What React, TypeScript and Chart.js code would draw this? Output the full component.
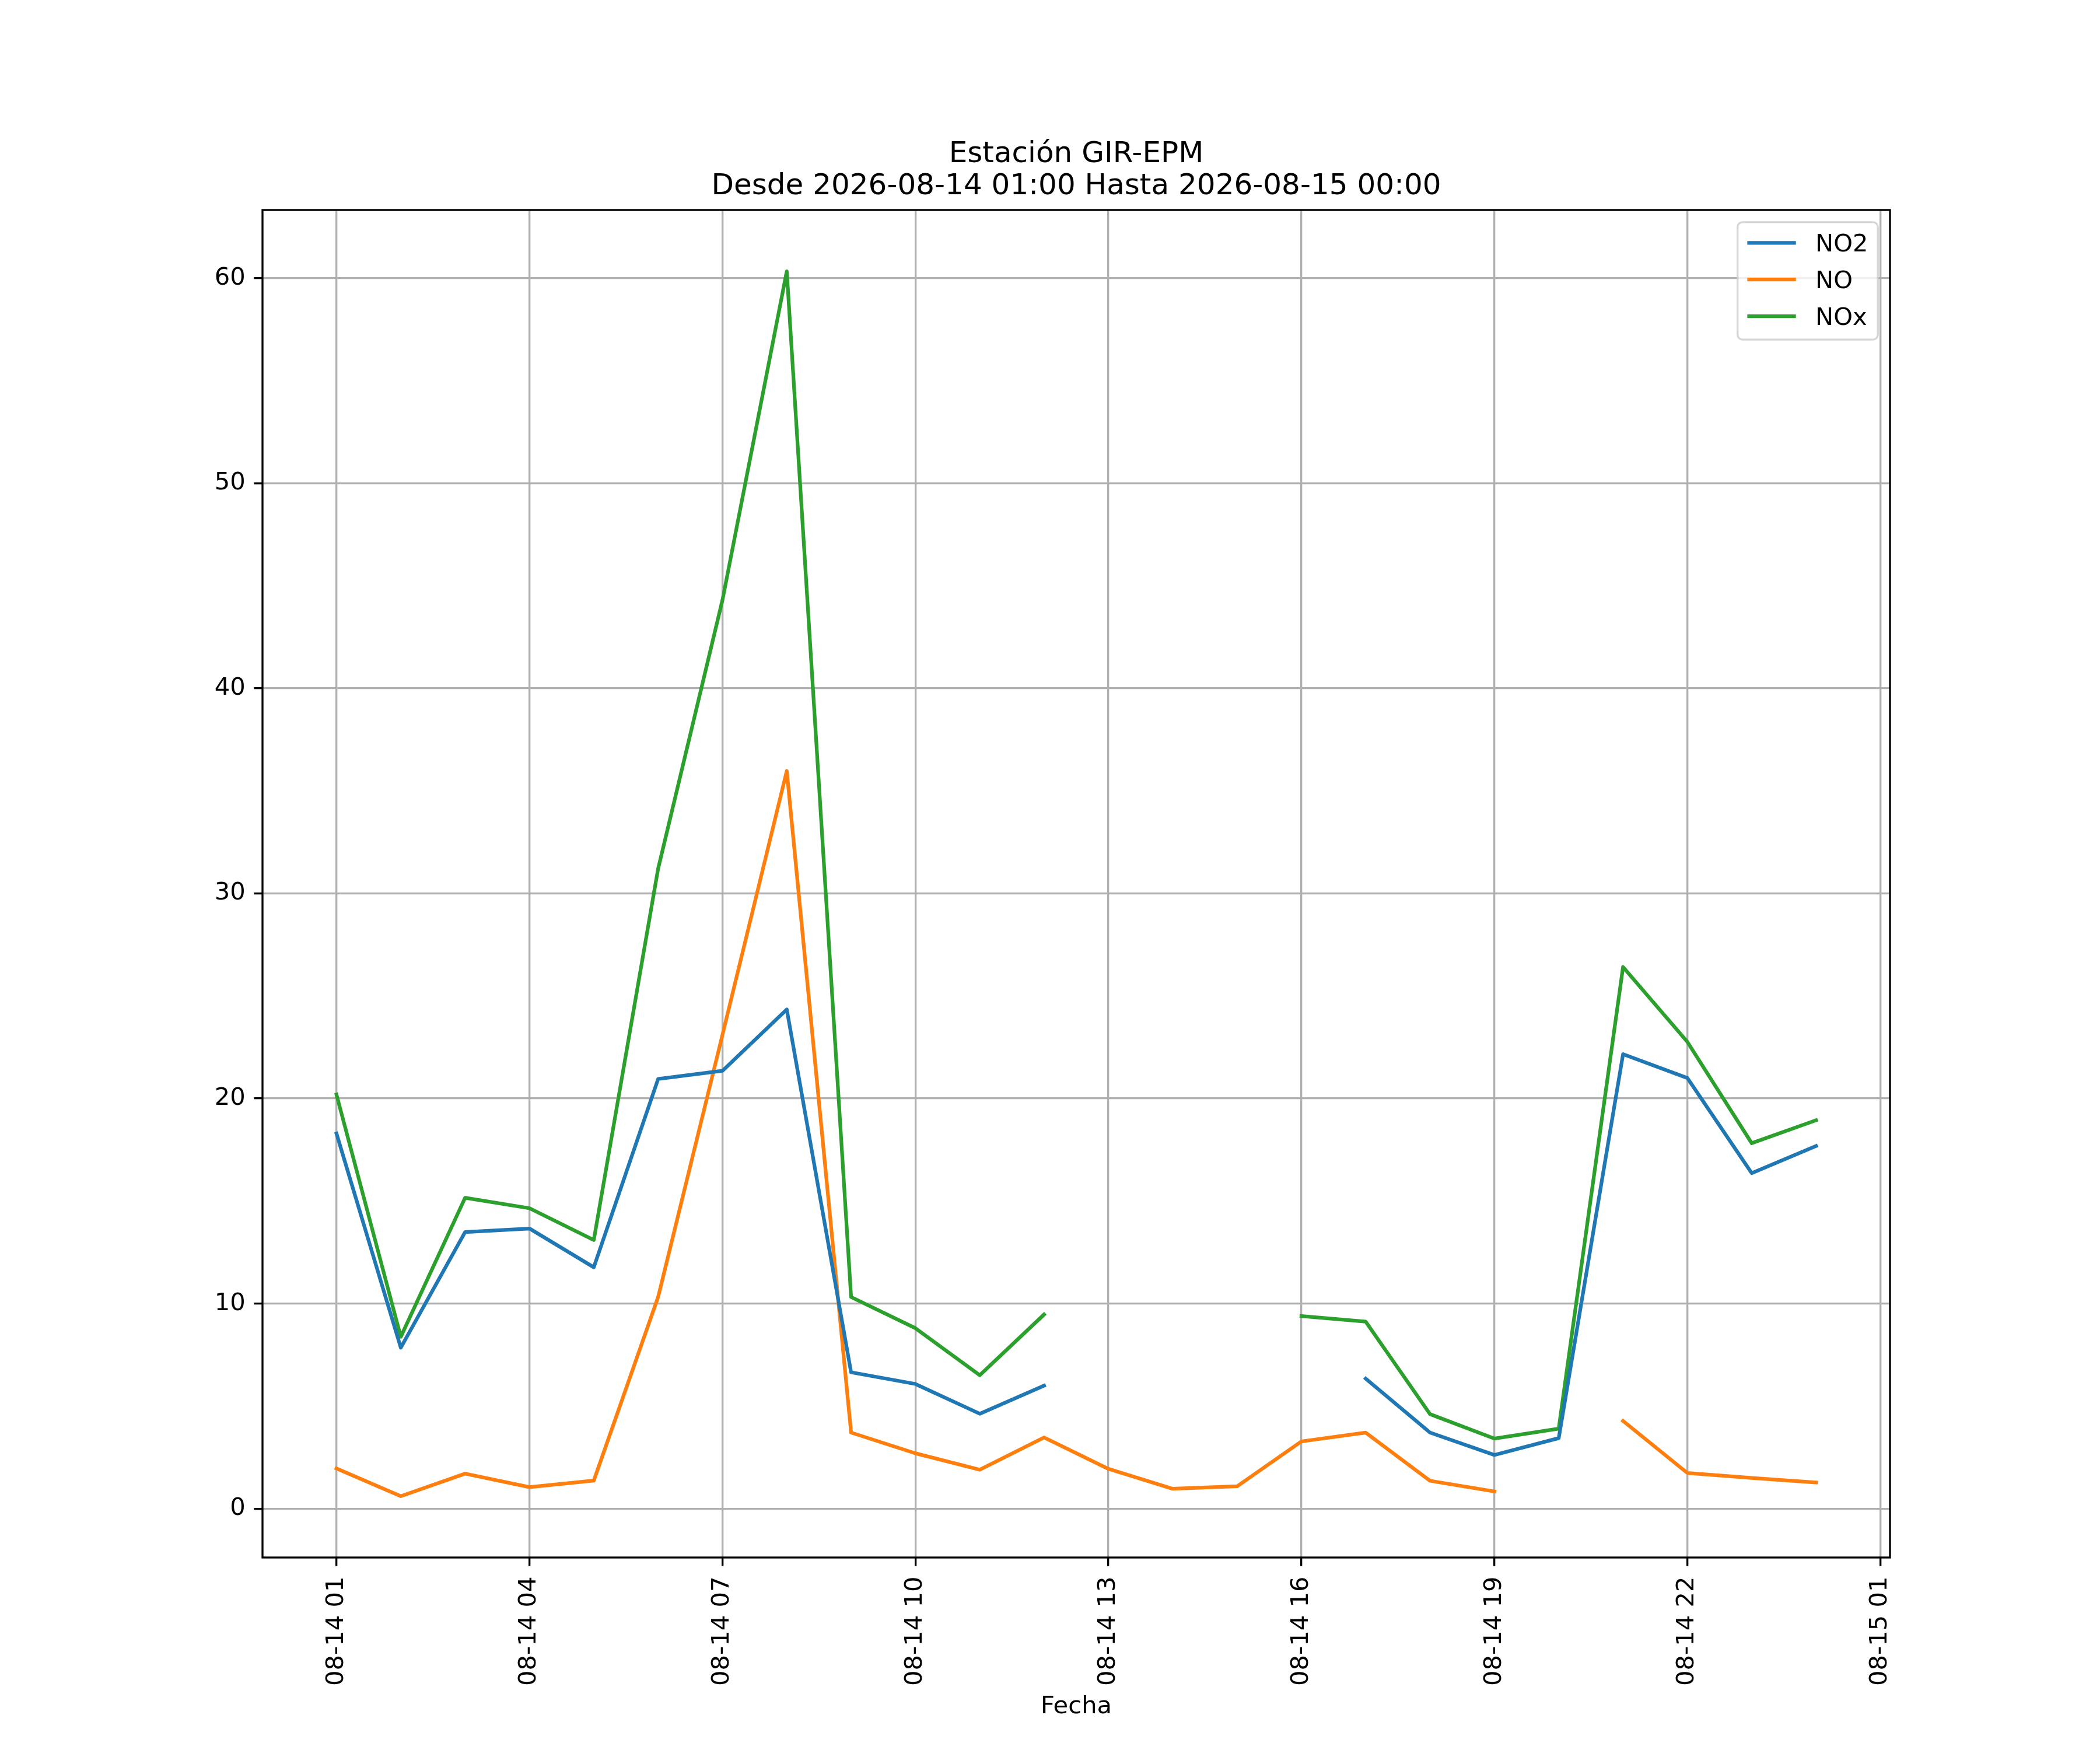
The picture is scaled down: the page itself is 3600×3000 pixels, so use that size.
import { useEffect, useRef } from "react";
import Chart from "chart.js/auto";

// hours since 2026-08-14 00:00 (1 = 08-14 01:00, 24 = 08-15 00:00)
const hours = [1, 2, 3, 4, 5, 6, 7, 8, 9, 10, 11, 12, 13, 14, 15, 16, 17, 18, 19, 20, 21, 22, 23, 24];
const no2 = [18.29, 7.85, 13.49, 13.66, 11.77, 20.95, 21.35, 24.34, 6.65, 6.08, 4.63, 6.0, null, null, null, null, 6.34, 3.71, 2.62, 3.44, 22.16, 21.0, 16.36, 17.68];
const no = [1.96, 0.61, 1.71, 1.05, 1.37, 10.32, 23.1, 35.97, 3.71, 2.7, 1.9, 3.47, 1.94, 0.97, 1.09, 3.28, 3.71, 1.36, 0.84, null, 4.28, 1.74, 1.5, 1.28];
const nox = [20.19, 8.38, 15.16, 14.65, 13.1, 31.2, 44.3, 60.33, 10.32, 8.8, 6.51, 9.47, null, null, null, 9.39, 9.12, 4.61, 3.42, 3.9, 26.41, 22.76, 17.82, 18.94];

const xTickHours = [1, 4, 7, 10, 13, 16, 19, 22, 25];
const xTickLabels = ["08-14 01", "08-14 04", "08-14 07", "08-14 10", "08-14 13", "08-14 16", "08-14 19", "08-14 22", "08-15 01"];
const yTicks = [0, 10, 20, 30, 40, 50, 60];

const seriesNames = ["NO2", "NO", "NOx"];
const seriesColors = ["#1f77b4", "#ff7f0e", "#2ca02c"];

const FONT = "'DejaVu Sans', sans-serif";
const FS = 41.67; // 10pt at 300 dpi
const LW = 3.33; // 0.8pt

const frame = {
  id: "frame",
  afterDatasetsDraw(chart: any) {
    const { ctx, chartArea: a } = chart;
    ctx.save();
    ctx.strokeStyle = "#000";
    ctx.lineWidth = LW;
    ctx.lineJoin = "miter";
    ctx.strokeRect(a.left, a.top, a.right - a.left, a.bottom - a.top);
    ctx.restore();
  },
};

const mplLegend = {
  id: "mplLegend",
  afterDraw(chart: any) {
    const { ctx, chartArea: a } = chart;
    const sets = chart.data.datasets;
    ctx.save();
    ctx.font = `${FS}px ${FONT}`;
    const textW = Math.max(...sets.map((d: any) => ctx.measureText(d.label).width));
    const pad = 0.4 * FS;
    const handle = 2 * FS;
    const gap = 0.8 * FS;
    const rowStep = 1.51 * FS;
    const w = pad * 2 + handle + gap + textW;
    const h = pad * 2 + 1.01 * FS * sets.length + 0.5 * FS * (sets.length - 1);
    const x1 = a.right - 0.5 * FS;
    const y0 = a.top + 0.5 * FS;
    const x0 = x1 - w;
    ctx.beginPath();
    ctx.roundRect(x0, y0, w, h, 0.2 * FS);
    ctx.fillStyle = "rgba(255,255,255,0.8)";
    ctx.fill();
    ctx.strokeStyle = "rgba(204,204,204,0.8)";
    ctx.lineWidth = LW;
    ctx.stroke();
    sets.forEach((d: any, i: number) => {
      const cy = y0 + pad + 0.45 * FS + i * rowStep;
      ctx.beginPath();
      ctx.moveTo(x0 + pad, cy);
      ctx.lineTo(x0 + pad + handle, cy);
      ctx.strokeStyle = d.borderColor;
      ctx.lineWidth = 6.25;
      ctx.lineCap = "butt";
      ctx.stroke();
      ctx.fillStyle = "#000";
      ctx.textAlign = "left";
      ctx.textBaseline = "alphabetic";
      ctx.fillText(d.label, x0 + pad + handle + gap, cy + 0.365 * FS);
    });
    ctx.restore();
  },
};

export default function App() {
  const canvasRef = useRef<HTMLCanvasElement>(null);

  useEffect(() => {
    if (!canvasRef.current) return;
    const series = [no2, no, nox];
    const chart = new Chart(canvasRef.current, {
      type: "line",
      data: {
        datasets: series.map((vals, i) => ({
          label: seriesNames[i],
          data: hours.map((h, j) => ({ x: h, y: vals[j] })),
          borderColor: seriesColors[i],
          backgroundColor: seriesColors[i],
          borderWidth: 6.25,
          borderJoinStyle: "round" as const,
          borderCapStyle: "square" as const,
          pointRadius: 0,
          pointHoverRadius: 0,
          tension: 0,
          spanGaps: false,
        })),
      },
      options: {
        animation: false,
        responsive: true,
        maintainAspectRatio: false,
        devicePixelRatio: 1,
        layout: { padding: { left: 0, right: 360, top: 0, bottom: 0 } },
        plugins: {
          legend: { display: false },
          tooltip: { enabled: false },
          title: {
            display: true,
            fullSize: false,
            text: ["Estación GIR-EPM", "Desde 2026-08-14 01:00 Hasta 2026-08-15 00:00"],
            color: "#000",
            font: { family: FONT, size: 50, weight: "normal", lineHeight: 1.1 },
            padding: { top: 237.5, bottom: 12.5 },
          },
        },
        scales: {
          x: {
            type: "linear",
            min: -0.15,
            max: 25.15,
            afterBuildTicks: (scale: any) => {
              scale.ticks = xTickHours.map((v) => ({ value: v }));
            },
            afterFit: (scale: any) => {
              scale.height = 330;
            },
            ticks: {
              autoSkip: false,
              minRotation: 90,
              maxRotation: 90,
              padding: 18,
              color: "#000",
              font: { family: FONT, size: FS },
              callback: (value: any) => {
                const i = xTickHours.indexOf(Number(value));
                return i >= 0 ? xTickLabels[i] : "";
              },
            },
            grid: {
              color: "#b0b0b0",
              lineWidth: LW,
              tickColor: "#000",
              tickWidth: LW,
              tickLength: 14.6,
            },
            border: { display: false },
            title: {
              display: true,
              text: "Fecha",
              color: "#000",
              font: { family: FONT, size: FS, lineHeight: 1.2 },
              padding: { top: 0, bottom: 49 },
            },
          },
          y: {
            type: "linear",
            min: -2.38,
            max: 63.32,
            afterBuildTicks: (scale: any) => {
              scale.ticks = yTicks.map((v) => ({ value: v }));
            },
            afterFit: (scale: any) => {
              scale.width = 450;
            },
            ticks: {
              padding: 14.6,
              color: "#000",
              font: { family: FONT, size: FS },
            },
            grid: {
              color: "#b0b0b0",
              lineWidth: LW,
              tickColor: "#000",
              tickWidth: LW,
              tickLength: 14.6,
            },
            border: { display: false },
          },
        },
      },
      plugins: [frame, mplLegend],
    });
    return () => chart.destroy();
  }, []);

  return (
    <div
      style={{
        position: "absolute",
        left: 0,
        top: 0,
        width: 3600,
        height: 3000,
        background: "#fff",
      }}
    >
      <canvas ref={canvasRef} />
    </div>
  );
}
